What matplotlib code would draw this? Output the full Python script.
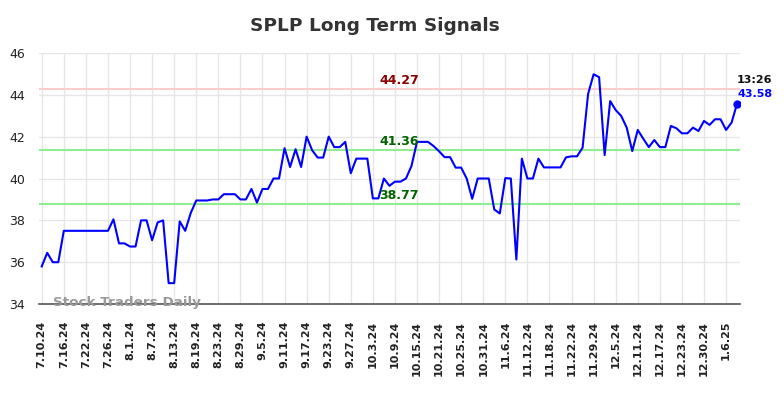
import numpy as np
import matplotlib
matplotlib.use('Agg')
import matplotlib.pyplot as plt

############# Chart data #############

title = 'SPLP Long Term Signals'

tick_labels = ['7.10.24', '7.16.24', '7.22.24', '7.26.24', '8.1.24', '8.7.24',
               '8.13.24', '8.19.24', '8.23.24', '8.29.24', '9.5.24', '9.11.24',
               '9.17.24', '9.23.24', '9.27.24', '10.3.24', '10.9.24', '10.15.24',
               '10.21.24', '10.25.24', '10.31.24', '11.6.24', '11.12.24', '11.18.24',
               '11.22.24', '11.29.24', '12.5.24', '12.11.24', '12.17.24', '12.23.24',
               '12.30.24', '1.6.25']
tick_step = 4

prices = [35.8, 36.45, 36.0, 36.0, 37.5, 37.5, 37.5, 37.5, 37.5, 37.5,
          37.5, 37.5, 37.5, 38.05, 36.9, 36.9, 36.75, 36.75, 38.0, 38.0,
          37.05, 37.9, 38.0, 35.0, 35.0, 37.95, 37.5, 38.35, 38.95, 38.95,
          38.95, 39.0, 39.0, 39.25, 39.25, 39.25, 39.0, 39.0, 39.5, 38.85,
          39.5, 39.5, 40.0, 40.0, 41.45, 40.55, 41.4, 40.55, 42.0, 41.35,
          41.0, 41.0, 42.0, 41.5, 41.5, 41.75, 40.25, 40.95, 40.95, 40.95,
          39.05, 39.05, 40.0, 39.65, 39.85, 39.85, 40.0, 40.6, 41.75, 41.75,
          41.75, 41.55, 41.3, 41.02, 41.02, 40.52, 40.52, 40.0, 39.03, 40.0,
          40.0, 40.0, 38.52, 38.33, 40.02, 40.0, 36.13, 40.95, 40.0, 40.0,
          40.95, 40.53, 40.53, 40.53, 40.53, 41.01, 41.06, 41.06, 41.47, 44.04,
          44.98, 44.84, 41.12, 43.7, 43.27, 42.99, 42.43, 41.31, 42.32, 41.9,
          41.5, 41.84, 41.5, 41.5, 42.51, 42.4, 42.16, 42.16, 42.43, 42.27,
          42.75, 42.56, 42.83, 42.83, 42.32, 42.67, 43.58]

resistance = 44.27
support_levels = [41.36, 38.77]
last_time = '13:26'

##############################################################

x = np.arange(len(prices))

fig = plt.figure(figsize=(7.84, 3.98), dpi=100)
ax = fig.add_axes([0.0497, 0.236, 0.894, 0.631])

# signal lines
ax.axhline(resistance, color='#ffcccc', lw=1.5, zorder=1)
for lvl in support_levels:
    ax.axhline(lvl, color='#90ee90', lw=1.5, zorder=1)

ax.plot(x, prices, color='#0000ff', lw=1.5, zorder=3)
ax.plot(x[-1], prices[-1], 'o', color='#0000ff', ms=5, zorder=4)

# level labels
mid = 64.8
ax.text(mid, resistance + 0.12, f'{resistance:.2f}', color='#8b0000',
        fontsize=9, fontweight='bold', ha='center', va='bottom')
for lvl in support_levels:
    ax.text(mid, lvl + 0.12, f'{lvl:.2f}', color='#006400',
            fontsize=9, fontweight='bold', ha='center', va='bottom')

# last price annotation
ax.text(x[-1], prices[-1] + 0.46, f'{prices[-1]:.2f}', color='#0000ff',
        fontsize=8, fontweight='bold', ha='left', va='center')
ax.text(x[-1], prices[-1] + 1.13, last_time, color='#111111',
        fontsize=8, fontweight='bold', ha='left', va='center')

# watermark
ax.text(0.02, -0.02, 'Stock Traders Daily', transform=ax.transAxes,
        color='#999999', fontsize=9.7, fontweight='bold', ha='left', va='bottom',
        zorder=5)

ax.set_xlim(-0.5, len(prices) - 0.5)
ax.set_ylim(34, 46)
ax.set_yticks(np.arange(34, 47, 2))
ax.set_xticks(x[::tick_step])
ax.set_xticklabels(tick_labels, rotation=90, fontsize=8, fontweight='bold')
ax.tick_params(axis='both', length=0, colors='#222222')
ax.tick_params(axis='x', pad=12)
ax.tick_params(axis='y', pad=10, labelsize=9)

ax.grid(True, color='#e6e6e6', lw=1)
ax.set_axisbelow(True)
for s in ['top', 'right', 'left']:
    ax.spines[s].set_visible(False)
ax.spines['bottom'].set_color('#555555')
ax.spines['bottom'].set_linewidth(1.2)

fig.text(0.478, 0.935, title, fontsize=13.3, fontweight='bold', color='#333333',
         ha='center', va='center')

plt.savefig('out.png', dpi=100)
plt.close()
